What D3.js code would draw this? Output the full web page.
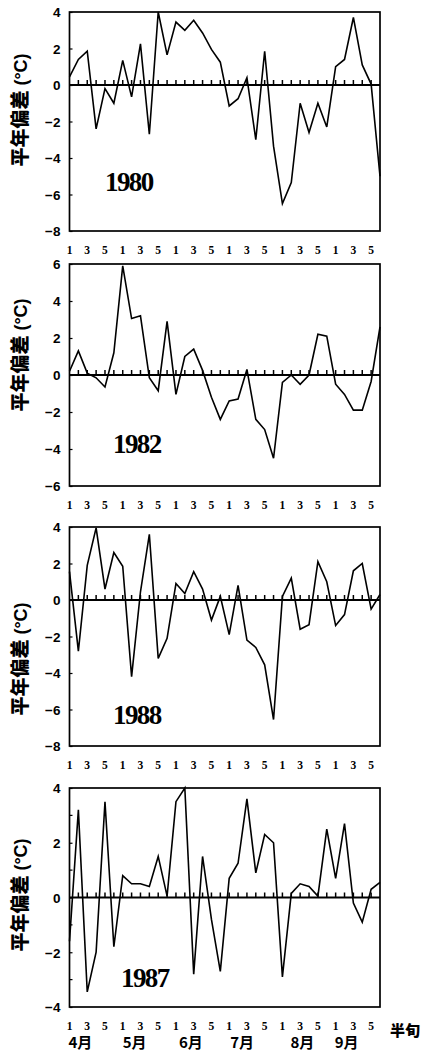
<!DOCTYPE html>
<html>
<head>
<meta charset="utf-8">
<script src="https://cdn.jsdelivr.net/npm/d3@7"></script>
<style>
  html, body { margin: 0; padding: 0; background: #fff; }
  svg { display: block; }
</style>
</head>
<body>
<svg id="chart" width="425" height="1054"></svg>
<script>
// Pentad-mean temperature anomalies (°C), April–September, 36 pentads per year
const pentads = d3.range(1, 37);
const years = ["1980", "1982", "1988", "1987"];
const dev1980 = [0.45, 1.4, 1.85, -2.4, -0.2, -1.0, 1.35, -0.65, 2.25, -2.7, 4.0, 1.65, 3.45, 3.0, 3.55, 2.85, 1.95, 1.25, -1.15, -0.75, 0.4, -3.0, 1.85, -3.35, -6.5, -5.35, -1.0, -2.6, -1.0, -2.3, 1.0, 1.4, 3.7, 1.1, 0.05, -5.0];
const dev1982 = [0.2, 1.3, 0.1, -0.15, -0.65, 1.2, 5.9, 3.05, 3.2, -0.15, -0.85, 2.9, -1.05, 1.0, 1.4, 0.25, -1.2, -2.4, -1.4, -1.3, 0.3, -2.4, -2.95, -4.5, -0.4, 0.0, -0.5, 0.0, 2.2, 2.1, -0.5, -1.05, -1.9, -1.9, -0.35, 2.6];
const dev1988 = [1.55, -2.8, 1.9, 3.95, 0.6, 2.6, 1.85, -4.2, 0.45, 3.6, -3.2, -2.1, 0.9, 0.35, 1.55, 0.6, -1.1, 0.2, -1.9, 0.8, -2.2, -2.6, -3.55, -6.55, 0.2, 1.2, -1.6, -1.35, 2.1, 1.0, -1.4, -0.8, 1.6, 2.0, -0.5, 0.3];
const dev1987 = [-1.6, 3.2, -3.45, -2.0, 3.5, -1.8, 0.8, 0.5, 0.5, 0.4, 1.5, 0.05, 3.5, 4.0, -2.8, 1.5, -0.8, -2.7, 0.7, 1.25, 3.6, 0.9, 2.3, 2.0, -2.9, 0.15, 0.5, 0.4, 0.05, 2.5, 0.7, 2.7, -0.2, -0.9, 0.3, 0.55];
const series = [dev1980, dev1982, dev1988, dev1987];
const yDomains = [[-8, 4], [-6, 6], [-8, 4], [-4, 4]];
const pentadTickLabels = ["1", "3", "5"];
const months = ["4月", "5月", "6月", "7月", "8月", "9月"];
const yTitle = "平年偏差";
const yUnit = " (°C)";
const xUnit = "半旬";

// Layout of the four stacked panels
const plotLeft = 69.5, plotRight = 380;
const panelTop = [12, 264, 527, 788];
const panelHeight = [219, 222, 219, 219];
const titleOffset = [98, 91, 132, 107];     // centre of the rotated axis title below panel top
const yearPos = [[105, 191], [113, 453], [113, 724], [121, 987]];
const monthNudge = [-1, 0, 3, 1, 8, -1];

const svg = d3.select("#chart");
const x = d3.scaleLinear().domain([1, 36]).range([plotLeft, plotRight]);

const sansBold = "'Liberation Sans', Arial, sans-serif";
const serifBold = "'Liberation Serif', 'Times New Roman', serif";
const cjk = "'Noto Sans CJK SC', 'Noto Sans CJK JP', sans-serif";

series.forEach((values, p) => {
  const top = panelTop[p], h = panelHeight[p], bottom = top + h;
  const y = d3.scaleLinear().domain(yDomains[p]).range([bottom, top]);
  const g = svg.append("g");

  // y axis labels every 2 °C, inward ticks on the frame
  const [lo, hi] = yDomains[p];
  const major = d3.range(lo, hi + 0.001, 2);
  const yAxis = d3.axisLeft(y).tickValues(major).tickSize(-3).tickPadding(9)
    .tickFormat(d => d < 0 ? "\u2212" + Math.abs(d) : String(d));
  const ya = g.append("g").attr("transform", `translate(${plotLeft},0)`).call(yAxis);
  ya.select(".domain").remove();
  ya.selectAll("line").attr("stroke", "#000").attr("stroke-width", 1.2);
  ya.selectAll("text").attr("font-family", sansBold).attr("font-weight", "bold")
    .attr("font-size", 13.5).attr("fill", "#000").attr("dy", "0.36em");

  if (p === 3) {
    // odd-degree minor ticks on the 1987 panel
    const minor = d3.range(lo + 1, hi, 2);
    g.selectAll(".minor").data(minor).join("line")
      .attr("x1", plotLeft).attr("x2", plotLeft + 3)
      .attr("y1", d => y(d)).attr("y2", d => y(d))
      .attr("stroke", "#000").attr("stroke-width", 1.2);
  }

  // zero line with short upward pentad ticks
  g.append("line").attr("x1", plotLeft).attr("x2", plotRight)
    .attr("y1", y(0)).attr("y2", y(0)).attr("stroke", "#000").attr("stroke-width", 2);
  g.selectAll(".ptick").data(pentads.slice(1, 35)).join("line")
    .attr("x1", d => x(d)).attr("x2", d => x(d))
    .attr("y1", y(0)).attr("y2", y(0) - 5)
    .attr("stroke", "#000").attr("stroke-width", 1.5);

  // anomaly curve
  const line = d3.line().x((d, i) => x(pentads[i])).y(d => y(d));
  g.append("path").datum(values).attr("d", line)
    .attr("fill", "none").attr("stroke", "#000").attr("stroke-width", 1.6)
    .attr("stroke-linejoin", "miter");

  // frame
  g.append("rect").attr("x", plotLeft).attr("y", top)
    .attr("width", plotRight - plotLeft).attr("height", h)
    .attr("fill", "none").attr("stroke", "#000").attr("stroke-width", 1.7);

  // pentad labels 1 3 5 under every month
  const labelled = pentads.filter(d => (d - 1) % 2 === 0);
  g.selectAll(".plabel").data(labelled).join("text")
    .attr("x", d => x(d)).attr("y", bottom + 23)
    .attr("text-anchor", "middle")
    .attr("font-family", serifBold).attr("font-weight", "bold").attr("font-size", 11.5)
    .text(d => pentadTickLabels[((d - 1) % 6) / 2]);

  // rotated axis title
  const ty = top + titleOffset[p];
  const t = g.append("text").attr("transform", `translate(27,${ty}) rotate(-90)`)
    .attr("text-anchor", "middle").attr("font-weight", "bold").attr("fill", "#000");
  t.append("tspan").attr("font-family", cjk).attr("font-weight", 900).attr("font-size", 19).text(yTitle);
  t.append("tspan").attr("font-family", sansBold).attr("font-size", 18).text(yUnit);

  // year label
  g.append("text").attr("x", yearPos[p][0]).attr("y", yearPos[p][1])
    .attr("font-family", serifBold).attr("font-weight", "bold").attr("font-size", 27)
    .attr("letter-spacing", -1.6).text(years[p]);

  if (p === 3) {
    g.selectAll(".month").data(months).join("text")
      .attr("x", (d, i) => x(1 + i * 6) + monthNudge[i]).attr("y", bottom + 41)
      .attr("font-family", cjk).attr("font-weight", "bold").attr("font-size", 15)
      .text(d => d);
    g.append("text").attr("x", 390).attr("y", bottom + 29)
      .attr("font-family", cjk).attr("font-weight", 900).attr("font-size", 15)
      .text(xUnit);
  }
});
</script>
</body>
</html>
